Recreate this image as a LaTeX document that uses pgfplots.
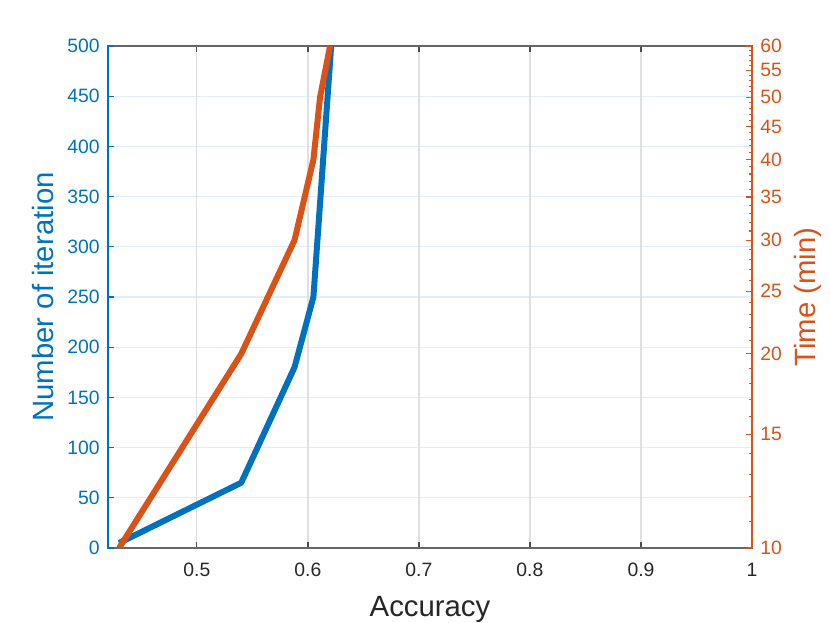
\documentclass[border=0pt]{standalone}
\usepackage{pgfplots}
\pgfplotsset{compat=1.18}
\usepackage{fontspec}
\setmainfont{Liberation Sans}

\definecolor{matblue}{RGB}{0,114,189}
\definecolor{matorange}{RGB}{217,83,25}
\definecolor{axgray}{RGB}{38,38,38}

% iterations vs accuracy (left axis)
\pgfplotstableread{
x y
0.430 5
0.540 65
0.588 180
0.605 250
0.621 500
}\iterdata

% time vs accuracy (right axis, log)
\pgfplotstableread{
x y
0.430 10
0.540 20
0.588 30
0.605 40
0.611 50
0.620 60
}\timedata

\pgfplotsset{
  common/.style={
    scale only axis,
    width=483pt, height=376.5pt,
    xmin=0.42, xmax=1,
    clip mode=individual,
    /pgf/number format/assume math mode=true,
    tick align=inside,
    major tick length=4.5pt,
    minor tick length=2.5pt,
    every tick label/.append style={inner sep=0pt, font=\fontsize{14.5}{17}\selectfont},
  },
}

\begin{document}
\begin{tikzpicture}
% left axis: number of iteration (horizontal grid first)
\begin{axis}[common,
    axis y line*=left, axis x line=none,
    ymin=0, ymax=500,
    ytick={50,100,...,450},
    extra y ticks={0,500},
    extra y tick style={grid=none},
    ymajorgrids,
    major grid style={draw=matblue!12, line width=1pt},
    y axis line style={draw=matblue, line width=1pt},
    tick style={draw=matblue, line width=1pt},
    yticklabel style={text=matblue, anchor=east, xshift=-6pt},
]
\node[text=matblue, font=\fontsize{22}{26}\selectfont, rotate=90, anchor=center]
  at ([xshift=-48.75pt]rel axis cs:0,0.5) {Number of iteration};
\end{axis}

% x axis, box and vertical grid
\begin{axis}[common,
    ymin=0, ymax=500, ytick=\empty,
    xtick={0.5,0.6,0.7,0.8,0.9,1},
    xticklabels={0.5,0.6,0.7,0.8,0.9,1},
    xtick pos=both,
    xmajorgrids,
    major grid style={draw=black!12, line width=1pt},
    axis line style={draw=black!60, line width=1pt},
    tick style={draw=black!70, line width=1pt},
    xticklabel style={text=axgray, anchor=north, yshift=-11pt},
]
\coordinate (sw) at (rel axis cs:0,0);
\coordinate (ne) at (rel axis cs:1,1);
\node[text=axgray, font=\fontsize{22}{26}\selectfont, anchor=base]
  at ([yshift=-51pt]rel axis cs:0.5,0) {Accuracy};
\end{axis}

% left axis again: line and blue axis line over the box
\begin{axis}[common,
    axis y line*=left, axis x line=none,
    ymin=0, ymax=500,
    ytick={0,50,...,500}, yticklabels={},
    y axis line style={draw=matblue, line width=1pt},
    tick style={draw=matblue, line width=1pt},
]
\addplot[matblue, line width=4.5pt, line join=round] table[x=x, y=y] {\iterdata};
\end{axis}

% right axis: time (log)
\begin{axis}[common,
    axis y line*=right, axis x line=none,
    ymode=log, ymin=10, ymax=60,
    ytick={10,15,20,25,30,35,40,45,50,55,60},
    yticklabels={10,15,20,25,30,35,40,45,50,55,60},
    minor ytick={11,12,13,14,16,17,18,19,21,22,23,24,26,27,28,29,31,32,33,34,36,37,38,39,41,42,43,44,46,47,48,49,51,52,53,54,56,57,58,59},
    y axis line style={draw=matorange, line width=1pt},
    tick style={draw=matorange, line width=0.8pt},
    yticklabel style={text=matorange, anchor=west, xshift=6pt},
]
\addplot[matorange, line width=4.5pt, line join=round] table[x=x, y=y] {\timedata};
\node[text=matorange, font=\fontsize{22}{26}\selectfont, rotate=90, anchor=center]
  at ([xshift=42pt]rel axis cs:1,0.5) {Time (min)};
\end{axis}

\pgfresetboundingbox
\path[use as bounding box] ([shift={(-81pt,-56.25pt)}]sw) rectangle ([shift={(58.5pt,34.5pt)}]ne);
\end{tikzpicture}
\end{document}
